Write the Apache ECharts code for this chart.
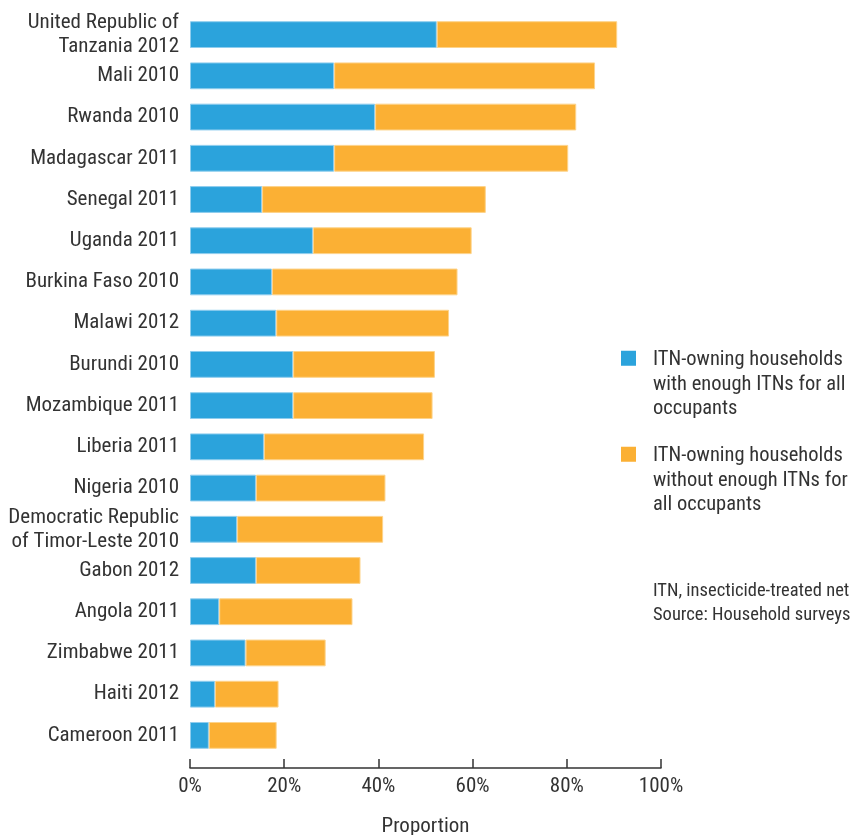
<!DOCTYPE html>
<html>
<head>
<meta charset="utf-8">
<script src="https://cdn.jsdelivr.net/npm/echarts@6/dist/echarts.min.js"></script>
<style>
html,body{margin:0;padding:0;background:#fff;}
#chart{width:853px;height:835px;}
</style>
</head>
<body>
<div id="chart"></div>
<script>
const categories = [
  'United Republic of\nTanzania 2012', 'Mali 2010', 'Rwanda 2010', 'Madagascar 2011',
  'Senegal 2011', 'Uganda 2011', 'Burkina Faso 2010', 'Malawi 2012', 'Burundi 2010',
  'Mozambique 2011', 'Liberia 2011', 'Nigeria 2010', 'Democratic Republic\nof Timor-Leste 2010',
  'Gabon 2012', 'Angola 2011', 'Zimbabwe 2011', 'Haiti 2012', 'Cameroon 2011'
];
const withEnough = [52.4, 30.6, 39.3, 30.6, 15.3, 26.1, 17.4, 18.3, 21.9, 21.9, 15.7, 14.0, 10.0, 14.0, 6.2, 11.8, 5.3, 4.0];
const withoutEnough = [38.3, 55.4, 42.7, 49.7, 47.5, 33.7, 39.4, 36.7, 30.1, 29.6, 34.0, 27.5, 31.0, 22.2, 28.3, 17.0, 13.5, 14.4];
const seriesNames = [
  'ITN-owning households\nwith enough ITNs for all\noccupants',
  'ITN-owning households\nwithout enough ITNs for\nall occupants'
];
const xTicks = [0, 20, 40, 60, 80, 100];
const notes = ['ITN, insecticide-treated net', 'Source: Household surveys'];

const FONT = "'Liberation Sans Narrow', 'Roboto Condensed', 'Open Sans', sans-serif";
const TXT = '#333333';
const BLUE = '#2BA3DC';
const ORANGE = '#FBB034';

const chart = echarts.init(document.getElementById('chart'));
// square icon at the top of a taller, otherwise empty box so it sits on the first text line
const ICON = 'path://M0,0h15v15h-15zM0,68h27';
const legendText = { color: TXT, fontFamily: FONT, fontSize: 20.5, lineHeight: 24.5 };
function legendFor(name, top) {
  return {
    data: [name], left: 621, top: top, orient: 'vertical', padding: 0,
    itemWidth: 27, itemHeight: 68, itemGap: 0, icon: ICON, selectedMode: false,
    itemStyle: { borderWidth: 0 },
    textStyle: legendText
  };
}
chart.setOption({
  animation: false,
  backgroundColor: '#fff',
  grid: { left: 190, right: 192, top: 14, height: 742, outerBoundsMode: 'none', containLabel: false },
  legend: [legendFor(seriesNames[0], 348), legendFor(seriesNames[1], 444)],
  xAxis: {
    type: 'value', min: 0, max: 100, interval: 20, offset: 12,
    axisLine: { show: true, lineStyle: { color: '#333', width: 1.5 } },
    axisTick: { show: true, inside: true, length: 9, lineStyle: { color: '#333', width: 1.5 } },
    splitLine: { show: false },
    axisLabel: {
      formatter: v => xTicks.includes(v) ? v + '%' : '',
      color: TXT, fontFamily: FONT, fontSize: 21, margin: 8
    },
    name: 'Proportion', nameLocation: 'middle', nameGap: 48,
    nameTextStyle: { color: TXT, fontFamily: FONT, fontSize: 21 }
  },
  yAxis: {
    type: 'category', data: categories, inverse: true,
    axisLine: { show: false }, axisTick: { show: false },
    axisLabel: { color: TXT, fontFamily: FONT, fontSize: 21, margin: 11, lineHeight: 24, align: 'right' }
  },
  series: [
    { name: seriesNames[0], type: 'bar', stack: 'total', data: withEnough, barWidth: '65%',
      itemStyle: { color: BLUE, borderColor: '#8fcdee', borderWidth: 1 } },
    { name: seriesNames[1], type: 'bar', stack: 'total', data: withoutEnough, barWidth: '65%',
      itemStyle: { color: ORANGE, borderColor: '#fdd38a', borderWidth: 1 } }
  ],
  graphic: notes.map((t, i) => ({
    type: 'text', left: 653, top: 582 + i * 24,
    style: { text: t, fill: TXT, font: "18.5px " + FONT }
  }))
});
</script>
</body>
</html>
